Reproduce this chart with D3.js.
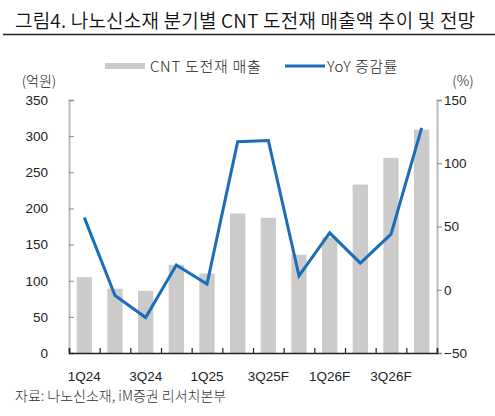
<!DOCTYPE html>
<html>
<head>
<meta charset="utf-8">
<script src="https://cdn.jsdelivr.net/npm/d3@7/dist/d3.min.js"></script>
<style>
  body { margin: 0; background: #fff; }
  svg { font-family: "Noto Sans CJK KR", "Noto Sans", sans-serif; }
  .axis text { font-size: 13.5px; fill: #222; font-weight: 300; }
</style>
</head>
<body>
<div id="chart"></div>
<script>
var quarters = ["1Q24", "2Q24", "3Q24", "4Q24", "1Q25", "2Q25", "3Q25F", "4Q25F", "1Q26F", "2Q26F", "3Q26F", "4Q26F"];
var sales = [105, 89, 86, 122, 110, 193, 187, 136, 160, 233, 270, 309];
var yoy = [57, -4.5, -22, 19.5, 4.5, 117, 118, 11, 45, 21, 44, 128];
var shownLabels = ["1Q24", "3Q24", "1Q25", "3Q25F", "1Q26F", "3Q26F"];
var leftTicks = [0, 50, 100, 150, 200, 250, 300, 350];
var rightTicks = [-50, 0, 50, 100, 150];

var width = 495, height = 416;
var plotLeft = 69, plotRight = 437, plotTop = 100, plotBottom = 353;

var svg = d3.select("#chart")
    .append("svg")
    .attr("width", width)
    .attr("height", height);

// title + rule
svg.append("text")
    .attr("x", 15).attr("y", 28)
    .attr("font-size", "19px").attr("font-weight", 350).attr("fill", "#111")
    .attr("letter-spacing", "0.2px")
    .text("그림4. 나노신소재 분기별 CNT 도전재 매출액 추이 및 전망");
svg.append("line")
    .attr("x1", 3).attr("x2", 495).attr("y1", 34.5).attr("y2", 34.5)
    .attr("stroke", "#222").attr("stroke-width", 1.5);

var x = d3.scaleBand()
    .domain(quarters)
    .range([plotLeft, plotRight])
    .paddingInner(0.5)
    .paddingOuter(0.25);

var xEdge = d3.scaleLinear().domain([0, quarters.length]).range([plotLeft, plotRight]);

var yL = d3.scaleLinear().domain([0, 350]).range([plotBottom, plotTop]);
var yR = d3.scaleLinear().domain([-50, 150]).range([plotBottom, plotTop]);

// bars
svg.selectAll(".bar")
    .data(sales)
  .enter().append("rect")
    .attr("class", "bar")
    .attr("x", function(d, i) { return x(quarters[i]); })
    .attr("y", function(d) { return yL(d); })
    .attr("width", x.bandwidth())
    .attr("height", function(d) { return yL(0) - yL(d); })
    .attr("fill", "#cbcbcb");

// left axis
var gl = svg.append("g")
    .attr("class", "axis")
    .attr("transform", "translate(" + plotLeft + ",0)")
    .call(d3.axisLeft(yL).tickValues(leftTicks).tickSize(-5).tickPadding(21));
gl.select(".domain").attr("stroke", "#bdbdbd").attr("stroke-width", 2);
gl.selectAll(".tick line").attr("stroke", "#888");

// right axis
var gr = svg.append("g")
    .attr("class", "axis")
    .attr("transform", "translate(" + plotRight + ",0)")
    .call(d3.axisRight(yR).tickValues(rightTicks).tickSize(5).tickPadding(2));
gr.select(".domain").attr("stroke", "#bdbdbd").attr("stroke-width", 2);
gr.selectAll(".tick line").attr("stroke", "#888");

// x axis line with ticks at category edges
var gx = svg.append("g")
    .attr("class", "axis")
    .attr("transform", "translate(0," + plotBottom + ")")
    .call(d3.axisBottom(xEdge).tickValues(d3.range(0, quarters.length + 1)).tickSize(-5).tickFormat(""));
gx.select(".domain").attr("stroke", "#222").attr("stroke-width", 1.5);
gx.selectAll(".tick line").attr("stroke", "#222").attr("stroke-width", 1.2);

// x labels
var gxl = svg.append("g")
    .attr("class", "axis")
    .attr("transform", "translate(0," + plotBottom + ")")
    .call(d3.axisBottom(x).tickValues(shownLabels).tickSize(0).tickPadding(18));
gxl.select(".domain").remove();

// yoy line
var line = d3.line()
    .x(function(d, i) { return x(quarters[i]) + x.bandwidth() / 2; })
    .y(function(d) { return yR(d); });

svg.append("path")
    .datum(yoy)
    .attr("fill", "none")
    .attr("stroke", "#1b6db8")
    .attr("stroke-width", 3)
    .attr("d", line);

// unit labels
svg.append("text")
    .attr("x", 39).attr("y", 86)
    .attr("text-anchor", "middle")
    .attr("font-size", "14px").attr("font-weight", 300).attr("fill", "#222")
    .text("(억원)");
svg.append("text")
    .attr("x", 463).attr("y", 86)
    .attr("text-anchor", "middle")
    .attr("font-size", "14px").attr("font-weight", 300).attr("fill", "#222")
    .text("(%)");

// legend
svg.append("rect")
    .attr("x", 105).attr("y", 63).attr("width", 40).attr("height", 6)
    .attr("fill", "#cbcbcb");
svg.append("text")
    .attr("x", 150).attr("y", 72)
    .attr("font-size", "15px").attr("font-weight", 300).attr("fill", "#222")
    .attr("letter-spacing", "0.7px")
    .text("CNT 도전재 매출");
svg.append("line")
    .attr("x1", 285).attr("x2", 325).attr("y1", 66).attr("y2", 66)
    .attr("stroke", "#1b6db8").attr("stroke-width", 3);
svg.append("text")
    .attr("x", 327).attr("y", 72)
    .attr("font-size", "15px").attr("font-weight", 300).attr("fill", "#222")
    .attr("letter-spacing", "0.5px")
    .text("YoY 증감률");

// source
svg.append("text")
    .attr("x", 15).attr("y", 401)
    .attr("font-size", "14px").attr("font-weight", 300).attr("fill", "#333")
    .text("자료: 나노신소재, iM증권 리서치본부");
</script>
</body>
</html>
